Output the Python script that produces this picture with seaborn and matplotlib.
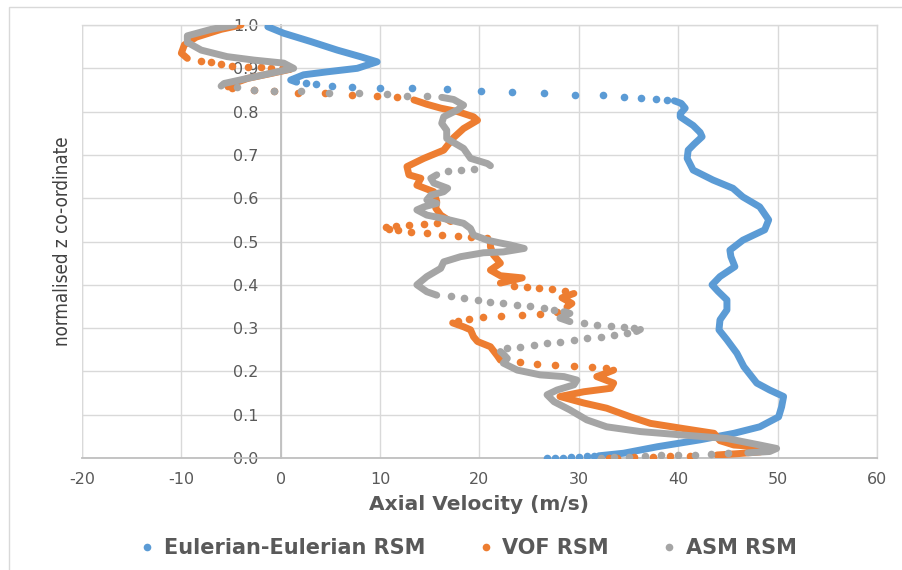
import matplotlib
matplotlib.use("Agg")
import matplotlib.pyplot as plt
import seaborn as sns
import pandas as pd
from matplotlib.lines import Line2D
from matplotlib.patches import Rectangle
from matplotlib.ticker import FormatStrFormatter, MultipleLocator

# ---------------------------------------------------------------------------
# Axial velocity profiles (m/s) along the normalised height.
# "trace" stretches are densely sampled and drawn as a continuous band,
# "dots" stretches are the sparse samples across steep jumps.
# ---------------------------------------------------------------------------

# Eulerian-Eulerian RSM
ee_trace1_x = [-1.3, 0.3, 3.0, 5.7, 8.0, 9.7, 7.7, 4.7, 2.3, 1.0, 1.6]
ee_trace1_y = [0.996, 0.981, 0.962, 0.942, 0.927, 0.915, 0.900, 0.892, 0.885, 0.873, 0.868]
ee_dots1_x = [2.5, 3.5, 5.2, 7.2, 10.0, 13.2, 16.7, 20.2, 23.3, 26.5, 29.6, 32.4, 34.5, 36.3, 37.8, 38.9]
ee_dots1_y = [0.865, 0.863, 0.860, 0.858, 0.855, 0.854, 0.852, 0.848, 0.845, 0.842, 0.839, 0.838, 0.834, 0.832, 0.829, 0.827]
ee_trace2_x = [39.6, 40.3, 40.7, 40.2, 40.2, 41.5, 42.2, 42.4, 41.6, 41.0, 40.9, 41.5, 43.5, 45.5, 46.5,
               48.2, 49.1, 48.7, 46.5, 45.2, 45.3, 45.7, 44.2, 43.4, 44.0, 44.9, 44.9, 44.2, 44.1, 44.9,
               45.9, 46.6, 47.9, 49.2, 50.6, 50.4, 50.1, 48.2, 45.6, 42.2, 37.9, 34.5, 32.0]
ee_trace2_y = [0.825, 0.819, 0.808, 0.795, 0.788, 0.768, 0.752, 0.742, 0.725, 0.711, 0.692, 0.665, 0.642, 0.623, 0.603,
               0.580, 0.550, 0.527, 0.503, 0.480, 0.465, 0.442, 0.419, 0.400, 0.385, 0.365, 0.342, 0.319, 0.296, 0.273,
               0.242, 0.211, 0.173, 0.157, 0.142, 0.118, 0.095, 0.072, 0.057, 0.042, 0.026, 0.011, 0.005]
ee_dots2_x = [26.8, 27.6, 28.4, 29.2, 30.0, 30.8, 31.5]
ee_dots2_y = [0.000, 0.001, 0.001, 0.002, 0.003, 0.004, 0.004]

# VOF RSM
vof_trace1_x = [-4.0, -6.0, -8.5, -9.7, -10.0, -9.4]
vof_trace1_y = [1.000, 0.990, 0.972, 0.954, 0.935, 0.923]
vof_dots1_x = [-8.0, -7.0, -6.0, -4.9, -3.3, -2.0, -1.0, 0.2]
vof_dots1_y = [0.917, 0.914, 0.909, 0.906, 0.904, 0.903, 0.901, 0.900]
vof_trace2_x = [0.2, 1.0, -1.0, -3.3, -5.0, -5.3]
vof_trace2_y = [0.900, 0.898, 0.888, 0.877, 0.863, 0.857]
vof_dots2_x = [-4.9, -2.7, -0.7, 1.7, 4.5, 7.2, 9.7, 11.7]
vof_dots2_y = [0.854, 0.850, 0.848, 0.844, 0.843, 0.838, 0.836, 0.834]
vof_trace3_x = [13.4, 14.7, 16.1, 17.8, 19.4, 19.8, 18.4, 17.4, 16.4, 14.4, 12.7, 12.9, 14.1, 13.7, 15.4,
                15.7, 15.6, 16.1, 17.1]
vof_trace3_y = [0.827, 0.817, 0.808, 0.800, 0.788, 0.780, 0.761, 0.740, 0.711, 0.692, 0.673, 0.654, 0.646, 0.630, 0.615,
                0.592, 0.577, 0.561, 0.546]
vof_dots3_x = [15.7, 14.4, 12.9, 11.6, 10.6, 10.9, 11.8, 13.1, 14.7, 16.2, 17.8, 19.1, 20.8]
vof_dots3_y = [0.543, 0.541, 0.539, 0.536, 0.533, 0.529, 0.526, 0.522, 0.520, 0.516, 0.513, 0.510, 0.507]
vof_trace4_x = [21.1, 21.1, 21.4, 22.1, 21.1, 22.1, 24.3, 22.1]
vof_trace4_y = [0.500, 0.488, 0.469, 0.450, 0.434, 0.421, 0.416, 0.404]
vof_dots4_x = [23.5, 24.8, 26.0, 27.3, 28.6]
vof_dots4_y = [0.397, 0.395, 0.392, 0.390, 0.386]
vof_trace5_x = [29.5, 28.3, 29.3, 28.8]
vof_trace5_y = [0.380, 0.370, 0.357, 0.349]
vof_dots5_x = [27.8, 26.1, 24.3, 22.2, 20.4, 18.9, 17.8]
vof_dots5_y = [0.338, 0.333, 0.330, 0.328, 0.326, 0.322, 0.316]
vof_trace6_x = [17.3, 18.4, 19.1, 19.4, 19.8, 21.1, 21.8, 22.1]
vof_trace6_y = [0.312, 0.303, 0.296, 0.280, 0.269, 0.257, 0.236, 0.226]
vof_dots6_x = [24.1, 25.8, 27.6, 29.5, 31.3, 32.7]
vof_dots6_y = [0.222, 0.218, 0.215, 0.213, 0.210, 0.207]
vof_trace7_x = [33.5, 32.3, 31.8, 33.5, 33.2, 30.5, 28.1, 30.5, 32.8, 35.2, 37.2, 40.5, 43.6, 44.2, 45.6,
                48.6, 49.4, 48.2, 46.0, 43.9]
vof_trace7_y = [0.203, 0.192, 0.188, 0.173, 0.161, 0.153, 0.142, 0.127, 0.115, 0.095, 0.080, 0.068, 0.057, 0.040, 0.030,
                0.025, 0.020, 0.014, 0.010, 0.007]
vof_dots7_x = [41.2, 39.2, 37.5, 35.5, 33.8, 33.0]
vof_dots7_y = [0.005, 0.004, 0.003, 0.002, 0.001, 0.000]

# ASM RSM
asm_trace1_x = [-4.7, -7.0, -9.4, -9.4, -8.0, -5.4, -2.7, 0.3, 1.3, -0.3, -3.3, -5.7, -6.0]
asm_trace1_y = [1.000, 0.990, 0.975, 0.960, 0.942, 0.927, 0.919, 0.912, 0.900, 0.892, 0.877, 0.865, 0.859]
asm_dots1_x = [-4.4, -2.7, -0.7, 2.0, 4.9, 7.9, 10.7, 12.7, 14.7]
asm_dots1_y = [0.856, 0.851, 0.848, 0.847, 0.844, 0.842, 0.840, 0.837, 0.835]
asm_trace2_x = [16.2, 17.4, 18.4, 17.8, 16.4, 16.2, 16.7, 16.7, 18.4, 19.1, 20.8, 21.1]
asm_trace2_y = [0.833, 0.828, 0.815, 0.804, 0.788, 0.773, 0.757, 0.738, 0.715, 0.692, 0.680, 0.675]
asm_dots2_x = [19.4, 18.1, 16.8]
asm_dots2_y = [0.668, 0.665, 0.662]
asm_trace3_x = [15.7, 15.1, 15.4, 16.8, 16.4, 15.1, 14.7, 15.7, 14.4, 13.7, 14.7, 16.4, 18.4, 19.1,
                19.4, 20.8, 22.0, 23.1, 24.5, 22.4, 20.4, 18.1, 16.4, 16.1, 14.7, 13.7, 14.7, 15.7]
asm_trace3_y = [0.654, 0.646, 0.635, 0.623, 0.615, 0.607, 0.596, 0.588, 0.580, 0.573, 0.561, 0.553, 0.542, 0.530,
                0.515, 0.503, 0.497, 0.492, 0.484, 0.476, 0.474, 0.465, 0.453, 0.438, 0.419, 0.400, 0.384, 0.376]
asm_dots3_x = [17.1, 18.4, 19.8, 21.1, 22.4, 23.8, 25.1, 26.5, 27.5]
asm_dots3_y = [0.373, 0.369, 0.365, 0.361, 0.357, 0.353, 0.350, 0.346, 0.342]
asm_trace4_x = [28.5, 29.1, 28.1, 29.1]
asm_trace4_y = [0.338, 0.334, 0.323, 0.315]
asm_dots4_x = [30.5, 31.8, 33.2, 34.5, 35.5]
asm_dots4_y = [0.311, 0.308, 0.306, 0.303, 0.300]
asm_trace5_x = [36.2, 35.8]
asm_trace5_y = [0.297, 0.292]
asm_dots5_x = [34.8, 33.5, 32.2, 30.8, 29.5, 28.1, 26.8, 25.5, 24.1, 22.8]
asm_dots5_y = [0.288, 0.284, 0.280, 0.277, 0.273, 0.269, 0.265, 0.261, 0.257, 0.253]
asm_trace6_x = [22.1, 22.4, 22.8, 22.4, 23.8, 26.1, 28.5, 29.8, 29.5, 27.8, 26.8, 27.5, 29.1, 30.8, 32.8,
                36.2, 40.5, 44.9, 48.2, 49.9, 49.2, 47.0]
asm_trace6_y = [0.246, 0.240, 0.230, 0.219, 0.203, 0.192, 0.188, 0.180, 0.169, 0.157, 0.146, 0.130, 0.111, 0.088, 0.072,
                0.061, 0.053, 0.045, 0.030, 0.022, 0.015, 0.012]
asm_dots6_x = [45.0, 43.3, 41.7, 40.0, 38.3, 36.7, 35.0, 33.5, 32.2]
asm_dots6_y = [0.011, 0.010, 0.008, 0.007, 0.006, 0.004, 0.003, 0.002, 0.000]

series_names = ["Eulerian-Eulerian RSM", "VOF RSM", "ASM RSM"]
series_colors = ["#5B9BD5", "#ED7D31", "#A5A5A5"]

pieces = {
    "Eulerian-Eulerian RSM": [
        ("trace", ee_trace1_x, ee_trace1_y), ("dots", ee_dots1_x, ee_dots1_y),
        ("trace", ee_trace2_x, ee_trace2_y), ("dots", ee_dots2_x, ee_dots2_y),
    ],
    "VOF RSM": [
        ("trace", vof_trace1_x, vof_trace1_y), ("dots", vof_dots1_x, vof_dots1_y),
        ("trace", vof_trace2_x, vof_trace2_y), ("dots", vof_dots2_x, vof_dots2_y),
        ("trace", vof_trace3_x, vof_trace3_y), ("dots", vof_dots3_x, vof_dots3_y),
        ("trace", vof_trace4_x, vof_trace4_y), ("dots", vof_dots4_x, vof_dots4_y),
        ("trace", vof_trace5_x, vof_trace5_y), ("dots", vof_dots5_x, vof_dots5_y),
        ("trace", vof_trace6_x, vof_trace6_y), ("dots", vof_dots6_x, vof_dots6_y),
        ("trace", vof_trace7_x, vof_trace7_y), ("dots", vof_dots7_x, vof_dots7_y),
    ],
    "ASM RSM": [
        ("trace", asm_trace1_x, asm_trace1_y), ("dots", asm_dots1_x, asm_dots1_y),
        ("trace", asm_trace2_x, asm_trace2_y), ("dots", asm_dots2_x, asm_dots2_y),
        ("trace", asm_trace3_x, asm_trace3_y), ("dots", asm_dots3_x, asm_dots3_y),
        ("trace", asm_trace4_x, asm_trace4_y), ("dots", asm_dots4_x, asm_dots4_y),
        ("trace", asm_trace5_x, asm_trace5_y), ("dots", asm_dots5_x, asm_dots5_y),
        ("trace", asm_trace6_x, asm_trace6_y), ("dots", asm_dots6_x, asm_dots6_y),
    ],
}

rows = []
for name in series_names:
    for k, (kind, xs, ys) in enumerate(pieces[name]):
        for xv, yv in zip(xs, ys):
            rows.append({"series": name, "piece": k, "kind": kind, "x": xv, "y": yv})
df = pd.DataFrame(rows)

sns.set_theme(style="white")
plt.rcParams["font.family"] = ["DejaVu Sans"]
plt.rcParams["axes.unicode_minus"] = False

fig, ax = plt.subplots(figsize=(9.03, 5.70), dpi=100)
fig.subplots_adjust(left=0.0908, right=0.9712, top=0.9561, bottom=0.1965)

GRID = "#d9d9d9"
AXIS = "#bfbfbf"
TEXT = "#595959"

for name, color in zip(series_names, series_colors):
    sub = df[df["series"] == name]
    tr = sub[sub["kind"] == "trace"]
    sns.lineplot(data=tr, x="x", y="y", units="piece", estimator=None, sort=False,
                 color=color, linewidth=5.0, solid_capstyle="round",
                 solid_joinstyle="round", legend=False, ax=ax, zorder=3)
    dt = sub[sub["kind"] == "dots"]
    sns.scatterplot(data=dt, x="x", y="y", color=color, s=30, linewidth=0,
                    legend=False, ax=ax, zorder=3)

ax.set_xlim(-20, 60)
ax.set_ylim(0, 1.0)
ax.xaxis.set_major_locator(MultipleLocator(10))
ax.yaxis.set_major_locator(MultipleLocator(0.1))
ax.yaxis.set_major_formatter(FormatStrFormatter("%.1f"))
ax.grid(True, color=GRID, linewidth=1.0)
ax.set_axisbelow(True)

for side in ("top", "right"):
    ax.spines[side].set_color(GRID)
    ax.spines[side].set_linewidth(1.0)
ax.spines["left"].set_position(("data", 0))
ax.spines["left"].set_color(AXIS)
ax.spines["left"].set_linewidth(1.3)
ax.spines["bottom"].set_color(AXIS)
ax.spines["bottom"].set_linewidth(1.3)
ax.axvline(-20, color=GRID, linewidth=1.0, zorder=0.5)

ax.tick_params(axis="both", length=0, labelsize=11.5, labelcolor=TEXT)
ax.tick_params(axis="y", pad=16)
ax.tick_params(axis="x", pad=10)

ax.set_xlabel("Axial Velocity (m/s)", fontsize=14.5, fontweight="bold", color=TEXT)
ax.xaxis.set_label_coords(0.5, -0.085)
ax.set_ylabel("normalised z co-ordinate", fontsize=13.5, color="#404040",
              family=["Liberation Sans Narrow", "DejaVu Sans"], fontstretch="condensed")
ax.yaxis.set_label_coords(-0.013, 0.5)

handles = [Line2D([0], [0], marker="o", linestyle="", color=c, markersize=5.5,
                  markeredgewidth=0) for c in series_colors]
leg = ax.legend(handles, series_names, loc="center", bbox_to_anchor=(0.484, -0.208),
                ncol=3, frameon=False, handletextpad=0.3, columnspacing=2.4,
                handlelength=1.0, prop={"weight": "bold", "size": 15})
for t in leg.get_texts():
    t.set_color(TEXT)

fig.patches.append(Rectangle((9 / 903, -0.5), 2.0, 0.5 + (1 - 7 / 570),
                             transform=fig.transFigure, fill=False,
                             edgecolor=GRID, linewidth=1.0))

fig.savefig("out.png", dpi=100)
